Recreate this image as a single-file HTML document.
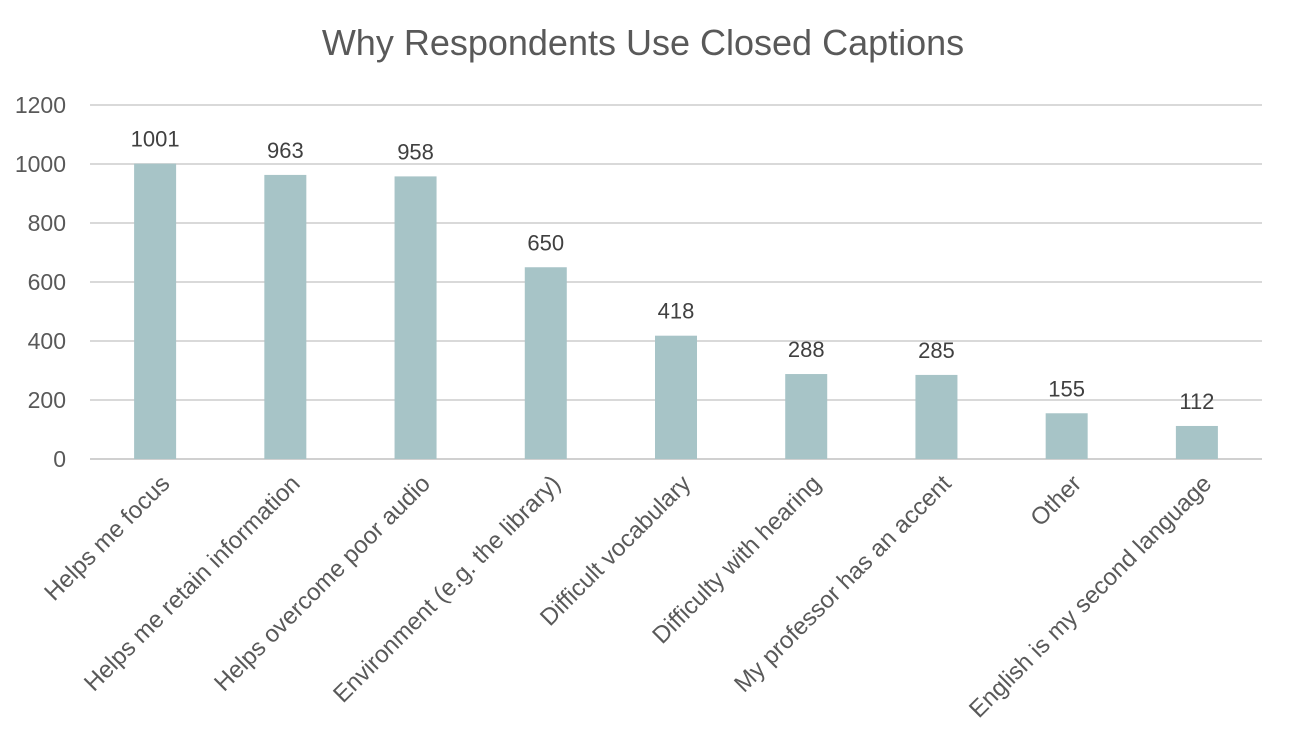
<!DOCTYPE html>
<html><head><meta charset="utf-8"><style>
html,body{margin:0;padding:0;background:#fff;}
svg{display:block;font-family:"Liberation Sans",sans-serif;}
</style></head><body>
<svg id="chart" width="1291" height="747" viewBox="0 0 1291 747">
<text x="643" y="55" text-anchor="middle" font-size="36" fill="#595959">Why Respondents Use Closed Captions</text>
<g id="grid"></g><g id="bars"></g><g id="labels"></g>
</svg>
<script>
const categories=["Helps me focus","Helps me retain information","Helps overcome poor audio","Environment (e.g. the library)","Difficult vocabulary","Difficulty with hearing","My professor has an accent","Other","English is my second language"];
const values=[1001,963,958,650,418,288,285,155,112];
const yTicks=[0,200,400,600,800,1000,1200];
const NS="http://www.w3.org/2000/svg";
const left=90,right=1262,y0=459,y1=105,yMax=1200;
const y=v=>y0-(v/yMax)*(y0-y1);
const step=(right-left)/categories.length;
const x=i=>left+step*(i+0.5);
const bw=42;
function mk(tag,attrs,parent){const e=document.createElementNS(NS,tag);for(const k in attrs)e.setAttribute(k,attrs[k]);parent.appendChild(e);return e;}
const grid=document.getElementById('grid'),bars=document.getElementById('bars'),labels=document.getElementById('labels');
yTicks.forEach(t=>{
 const l=mk('line',{x1:left,x2:right,y1:y(t),y2:y(t),stroke:t===0?'#d0d0d0':'#d9d9d9','stroke-width':2},grid);
 
 
 const tx=mk('text',{x:66,y:y(t)+8,'text-anchor':'end','font-size':23,fill:'#595959'},grid);
 tx.textContent=t;
 
 
});
categories.forEach((c,i)=>{
 const r=mk('rect',{x:x(i)-bw/2,y:y(values[i]),width:bw,height:y0-y(values[i]),fill:'#a7c4c7'},bars);
 
 
 const v=mk('text',{x:x(i),y:y(values[i])-17,'text-anchor':'middle','font-size':22,fill:'#404040'},labels);
 v.textContent=values[i];
 
 
 const cx=x(i)+16,cy=y0+26;
 const t=mk('text',{x:cx,y:cy,'text-anchor':'end','font-size':24,fill:'#595959',transform:`rotate(-45 ${cx} ${cy})`},labels);
 t.textContent=c;
 
 
});
</script>
</body></html>
